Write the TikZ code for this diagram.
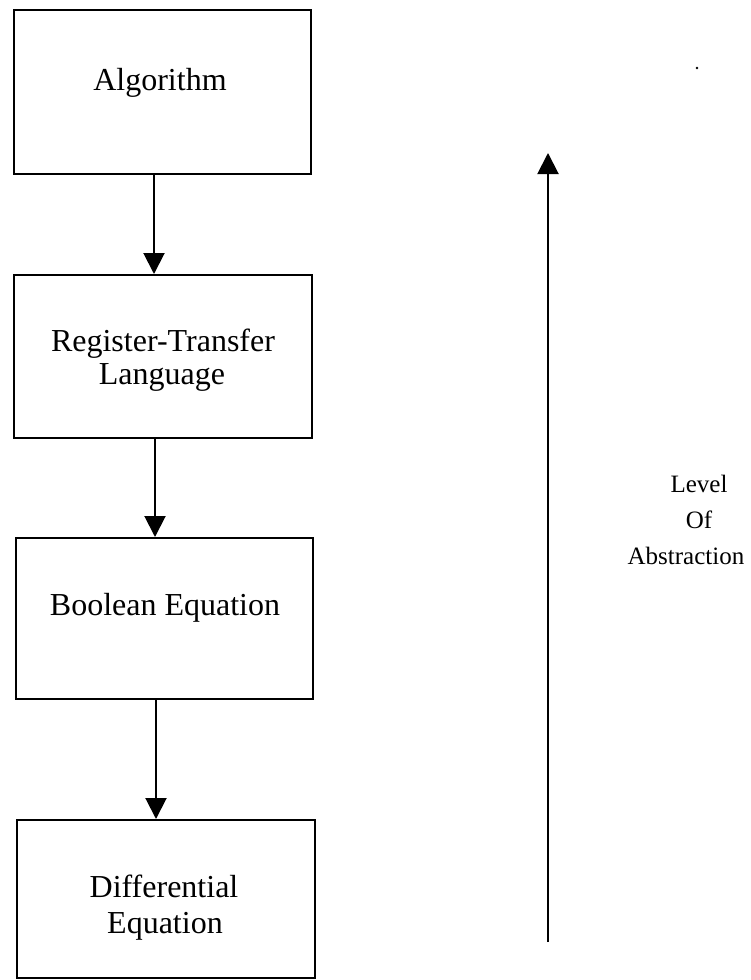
\documentclass[tikz,border=0pt]{standalone}
\usepackage{fontspec}
\setmainfont{Liberation Serif}
\usetikzlibrary{arrows.meta}
\begin{document}
\begin{tikzpicture}[x=1pt,y=-1pt,
  stage/.style={draw=black, line width=2pt, rectangle, inner sep=0pt},
  stagetext/.style={anchor=base, inner sep=0pt, font=\fontsize{32}{34}\selectfont},
  sidetext/.style={anchor=base, inner sep=0pt, font=\fontsize{25}{30}\selectfont},
  conn/.style={draw=black, line width=2pt, -{Triangle[width=21pt,length=21pt]}}]
  \useasboundingbox (0,0) rectangle (751,980);

  % stage boxes
  \node[stage, minimum width=297pt, minimum height=164pt] (alg) at (162.5,92) {};
  \node[stage, minimum width=298pt, minimum height=163pt] (rtl) at (163,356.5) {};
  \node[stage, minimum width=297pt, minimum height=161pt] (bool) at (164.5,618.5) {};
  \node[stage, minimum width=298pt, minimum height=158pt] (diff) at (166,899) {};

  % stage labels
  \node[stagetext] (algT) at (160,90) {Algorithm};
  \node[stagetext] (rtlA) at (163,351) {Register-Transfer};
  \node[stagetext] (rtlB) at (162,384) {Language};
  \node[stagetext] (boolT) at (165,615) {Boolean Equation};
  \node[stagetext] (diffA) at (164,897) {Differential};
  \node[stagetext] (diffB) at (165,933) {Equation};

  % refinement arrows between stages
  \draw[conn] ([xshift=-8.5pt]alg.south) -- ([xshift=-8.5pt]alg.south |- rtl.north);
  \draw[conn] ([xshift=-8pt]rtl.south) -- ([xshift=-8pt]rtl.south |- bool.north);
  \draw[conn] ([xshift=-8.5pt]bool.south) -- ([xshift=-8.5pt]bool.south |- diff.north);

  % abstraction axis
  \coordinate (axisLow) at (548,942);
  \coordinate (axisHigh) at (548,153);
  \draw[conn] (axisLow) -- (axisHigh);

  \node[sidetext] (lvlA) at (699,492) {Level};
  \node[sidetext] (lvlB) at (699,528) {Of};
  \node[sidetext] (lvlC) at (686,564) {Abstraction};

  % small speck near the top right
  \fill (697,68) circle (1.3pt);
\end{tikzpicture}
\end{document}
